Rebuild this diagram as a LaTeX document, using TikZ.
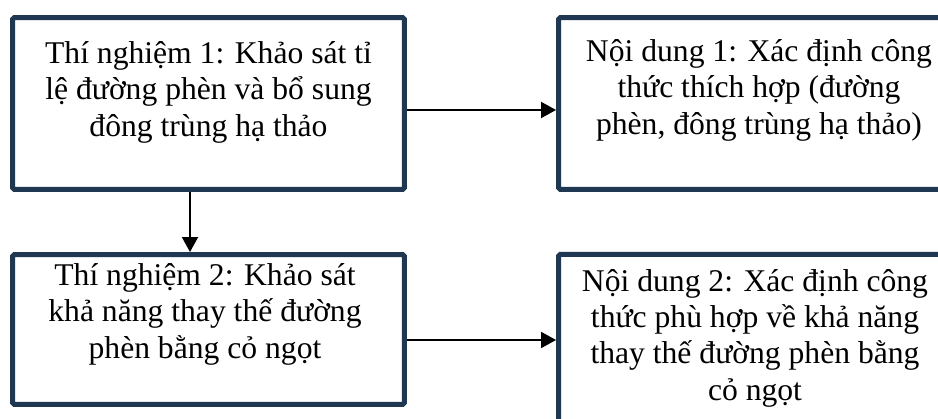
\documentclass[tikz,border=0pt]{standalone}
\usepackage{fontspec}
\setmainfont{Liberation Serif}
\usetikzlibrary{positioning,arrows.meta}
\definecolor{boxline}{HTML}{1F3751}
\tikzset{
  box/.style={draw=boxline, line width=0.1cm, rounded corners=1pt, fill=white},
  boxtext/.style={align=center, inner sep=0pt, font=\fontsize{18pt}{20.7pt}\selectfont},
  arrow/.style={line width=0.04cm, -{Triangle[length=0.3cm,width=0.32cm]}}
}
\begin{document}
\begin{tikzpicture}[x=0.02cm, y=-0.02cm]
	\useasboundingbox (0,0) rectangle (938,419);
	\clip (0,0) rectangle (938,419);
	\node[box, minimum width=7.84cm, minimum height=3.44cm] (thi1) at (208.5,103.5) {};
	\node[box, minimum width=8.02cm, minimum height=3.44cm] (nd1) at (759,103.5) {};
	\node[box, minimum width=7.84cm, minimum height=3.0cm] (thi2) at (208.5,329.5) {};
	\node[box, minimum width=8.02cm, minimum height=3.51cm] (nd2) at (759,342) {};

	\node[boxtext, below=0.52cm of thi1.north] (tthi1) {Thí nghiệm 1: Khảo sát tỉ\\lệ đường phèn và bổ sung\\đông trùng hạ thảo};
	\node[boxtext, below=0.48cm of nd1.north] (tnd1) {Nội dung 1: Xác định công\\thức thích hợp (đường\\phèn, đông trùng hạ thảo)};
	\node[boxtext, below=0.22cm of thi2.north, xshift=-0.07cm] (tthi2) {Thí nghiệm 2: Khảo sát\\khả năng thay thế đường\\phèn bằng cỏ ngọt};
	\node[boxtext, below=0.34cm of nd2.north, xshift=-0.08cm] (tnd2) {Nội dung 2: Xác định công\\thức phù hợp về khả năng\\thay thế đường phèn bằng\\cỏ ngọt};

	\draw[arrow] ([yshift=-0.13cm]thi1.east) -- ([yshift=-0.13cm]thi1.east -| nd1.west);
	\draw[arrow] ([xshift=-0.37cm]thi1.south) -- ([xshift=-0.37cm]thi1.south |- thi2.north);
	\draw[arrow] ([yshift=-0.21cm]thi2.east) -- ([yshift=-0.21cm]thi2.east -| nd2.west);
\end{tikzpicture}
\end{document}
